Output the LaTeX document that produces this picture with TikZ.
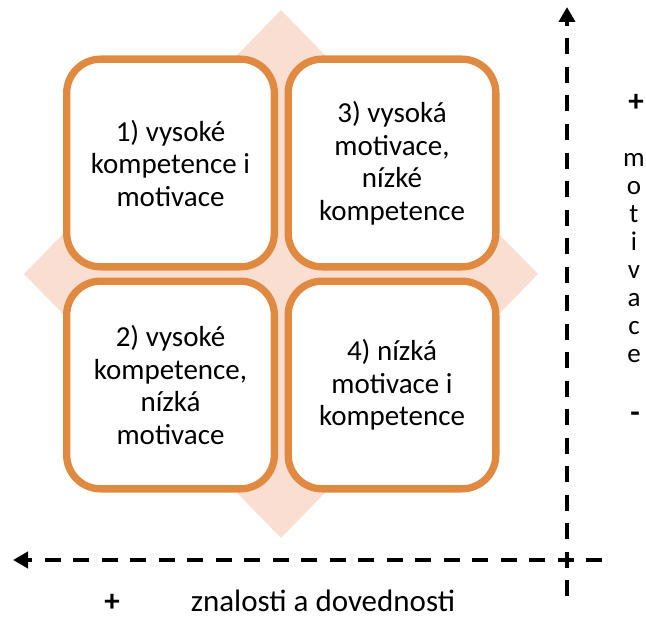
\documentclass[tikz,border=0pt]{standalone}
\usepackage{fontspec}
\setmainfont{Carlito}
\usetikzlibrary{arrows.meta}
\definecolor{boxorange}{RGB}{224,138,65}
\definecolor{diamondpink}{RGB}{251,222,210}
\tikzset{
  quadrant/.style={draw=boxorange, line width=7.3pt, fill=white, rounded corners=34pt,
    minimum width=207.7pt, minimum height=207.7pt, inner sep=0pt, align=center,
    font=\fontsize{29}{32.5}\selectfont},
  axis/.style={line width=4pt, dash pattern=on 16pt off 12.5pt,
    -{Triangle[width=16pt,length=15pt]}},
  axislabel/.style={inner sep=0pt, font=\fontsize{31}{32}\selectfont},
  vertlabel/.style={inner sep=0pt, align=center, font=\fontsize{27}{28}\selectfont}
}
\begin{document}
\begin{tikzpicture}[x=1pt,y=-1pt]
\useasboundingbox (0,0) rectangle (646,618);
% diamond behind the boxes
\fill[diamondpink] (281,10) -- (538,274) -- (281,538) -- (24,274) -- cycle;
% four quadrants
\node[quadrant] (high) at (170.5,163) {1) vysoké\\kompetence i\\motivace};
\node[quadrant] (motonly) at (392,163) {3) vysoká\\motivace,\\nízké\\kompetence};
\node[quadrant] (componly) at (170.5,385) {2) vysoké\\kompetence,\\nízká\\motivace};
\node[quadrant] (low) at (392,385) {4) nízká\\motivace i\\kompetence};
% axes
\coordinate (xstart) at (602,560);
\coordinate (xend) at (13,560);
\coordinate (ystart) at (567,596);
\coordinate (yend) at (567,7);
\draw[axis] (xstart) -- (xend);
\draw[axis] (ystart) -- (yend);
% axis labels
\node[axislabel] (yplus) at (636,103) {\textbf{+}};
\node[vertlabel] (ylabel) at (634,258) {m\\o\\t\\i\\v\\a\\c\\e};
\node[axislabel] (yminus) at (635,417) {\textbf{-}};
\node[axislabel, anchor=base] (xplus) at (112,611) {\textbf{+}};
\node[axislabel, anchor=base] (xlabel) at (323,611) {znalosti a dovednosti};
\end{tikzpicture}
\end{document}
